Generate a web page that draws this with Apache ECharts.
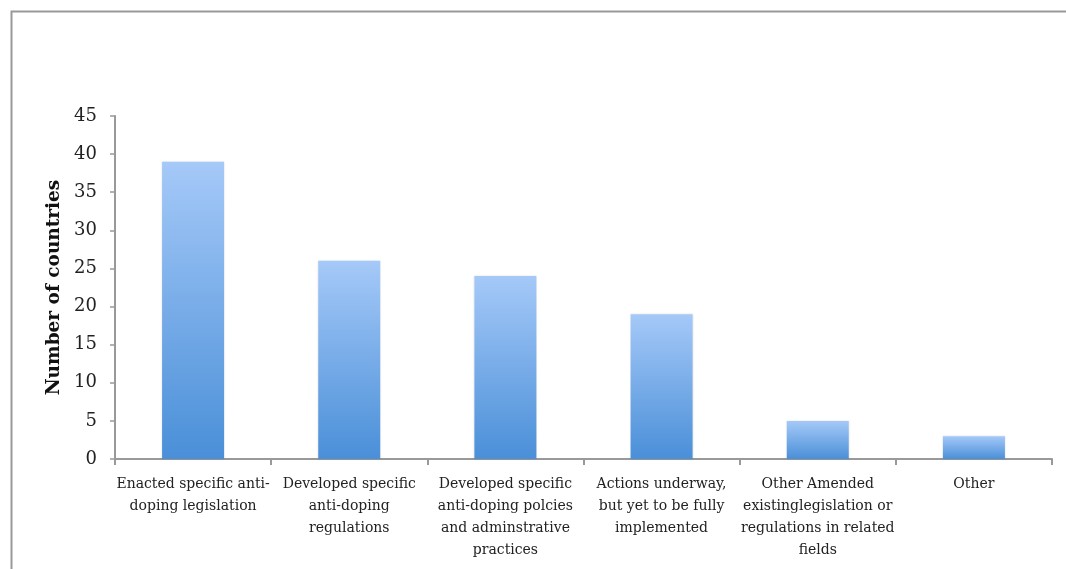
<!DOCTYPE html>
<html>
<head>
<meta charset="utf-8">
<script src="https://cdn.jsdelivr.net/npm/echarts@6/dist/echarts.min.js"></script>
<style>html,body{margin:0;padding:0;background:#fff}#c{width:1066px;height:569px}</style>
</head>
<body>
<div id="c"></div>
<script>
const categories = [
  "Enacted specific anti-\ndoping legislation",
  "Developed specific\nanti-doping\nregulations",
  "Developed specific\nanti-doping polcies\nand adminstrative\npractices",
  "Actions underway,\nbut yet to be fully\nimplemented",
  "Other Amended\nexistinglegislation or\nregulations in related\nfields",
  "Other"
];
const values = [39, 26, 24, 19, 5, 3];
const yAxisTitle = "Number of countries";

const chart = echarts.init(document.getElementById('c'));
const font = "'DejaVu Serif', 'Liberation Serif', serif";
chart.setOption({
  animation: false,
  graphic: [{
    type: 'rect', left: 9, top: 9,
    shape: { width: 1100, height: 600 },
    style: { fill: 'none', stroke: '#999', lineWidth: 2 }
  }],
  grid: { left: 115, right: 14, top: 116, bottom: 110 },
  xAxis: {
    type: 'category',
    data: categories,
    axisLine: { lineStyle: { color: '#999', width: 2 } },
    axisTick: { show: true, length: 6, lineStyle: { color: '#999', width: 2 } },
    axisLabel: { interval: 0, color: '#222', fontFamily: font, fontSize: 14, lineHeight: 22, margin: 14 }
  },
  yAxis: {
    type: 'value', min: 0, max: 45, interval: 5,
    name: yAxisTitle, nameLocation: 'middle', nameGap: 51,
    nameTextStyle: { fontFamily: font, fontWeight: 'bold', fontSize: 18.5, color: '#111' },
    axisLine: { show: true, lineStyle: { color: '#999', width: 2 } },
    axisTick: { show: true, length: 5, lineStyle: { color: '#999', width: 1.5 } },
    axisLabel: { color: '#222', fontFamily: font, fontSize: 18, margin: 18 },
    splitLine: { show: false }
  },
  series: [{
    type: 'bar',
    data: values,
    barWidth: 62,
    itemStyle: {
      color: new echarts.graphic.LinearGradient(0, 0, 0, 1, [
        { offset: 0, color: '#a5c9f8' },
        { offset: 1, color: '#4a8fd8' }
      ]),
      shadowColor: 'rgba(0,0,0,0.12)', shadowBlur: 2
    }
  }]
});
</script>
</body>
</html>
